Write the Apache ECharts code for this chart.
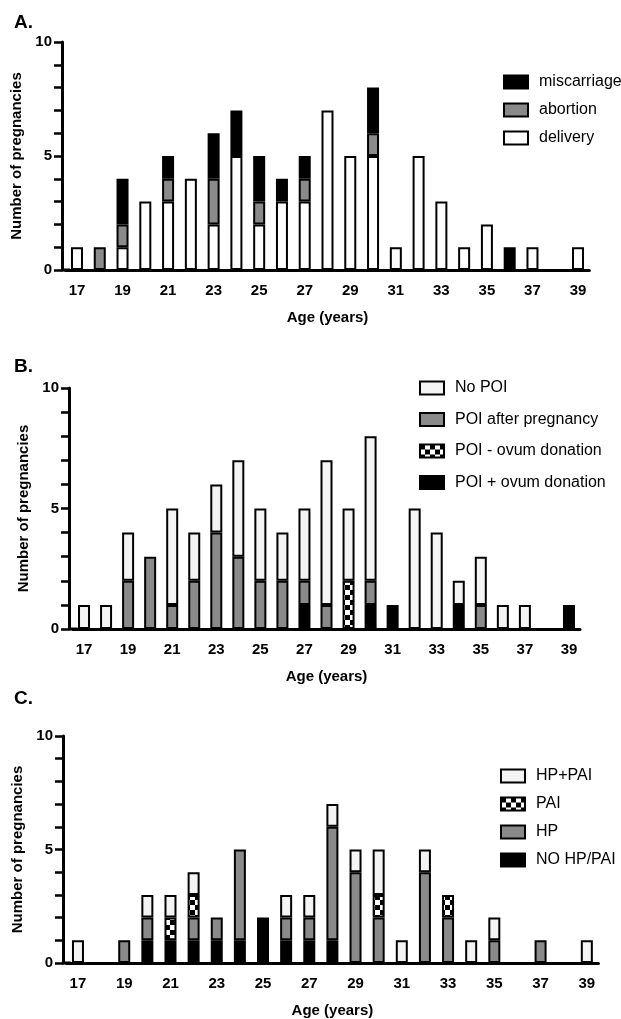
<!DOCTYPE html>
<html>
<head>
    <meta charset="utf-8">
    <script src="https://cdn.jsdelivr.net/npm/echarts@6/dist/echarts.min.js"></script>
</head>
<body style="margin:0;background:#fff">
    <div id="main" style="width: 621px;height:1019px;"></div>
    <script type="text/javascript">

    // ages on the x axis
    var ages = ['17','18','19','20','21','22','23','24','25','26','27','28','29','30','31','32','33','34','35','36','37','38','39'];

    // A. outcome
    var delivery    = [1,0,1,3,3,4,2,5,2,3,3,7,5,5,1,5,3,1,2,0,1,0,1];
    var abortion    = [0,1,1,0,1,0,2,0,1,0,1,0,0,1,0,0,0,0,0,0,0,0,0];
    var miscarriage = [0,0,2,0,1,0,2,2,2,1,1,0,0,2,0,0,0,0,0,1,0,0,0];

    // B. POI
    var poiPlusOvum  = [0,0,0,0,0,0,0,0,0,0,1,0,0,1,1,0,0,1,0,0,0,0,1];
    var poiMinusOvum = [0,0,0,0,0,0,0,0,0,0,0,0,2,0,0,0,0,0,0,0,0,0,0];
    var poiAfter     = [0,0,2,3,1,2,4,3,2,2,1,1,0,1,0,0,0,0,1,0,0,0,0];
    var noPoi        = [1,1,2,0,4,2,2,4,3,2,3,6,3,6,0,5,4,1,2,1,1,0,0];

    // C. HP / PAI
    var noHpPai = [0,0,0,1,1,1,1,1,2,1,1,1,0,0,0,0,0,0,0,0,0,0,0];
    var hp      = [0,0,1,1,0,1,1,4,0,1,1,5,4,2,0,4,2,0,1,0,1,0,0];
    var pai     = [0,0,0,0,1,1,0,0,0,0,0,0,0,1,0,0,1,0,0,0,0,0,0];
    var hpPai   = [1,0,0,1,1,1,0,0,0,1,1,1,1,2,1,1,0,1,1,0,0,0,1];

    var FONT = 'Liberation Sans';
    var GREY = '#8a8a8a';
    var LIGHT = '#f4f4f4';

    function checker() {
        var c = document.createElement('canvas');
        c.width = 10; c.height = 10;
        var g = c.getContext('2d');
        g.fillStyle = '#fff';
        g.fillRect(0, 0, 10, 10);
        g.fillStyle = '#000';
        g.fillRect(0, 0, 5, 5);
        g.fillRect(5, 5, 5, 5);
        return c;
    }
    var CHECK = {image: checker(), repeat: 'repeat'};

    function bars(name, values, color, idx) {
        return {
            name: name,
            type: 'bar',
            stack: 'p' + idx,
            xAxisIndex: idx,
            yAxisIndex: idx,
            barWidth: 12,
            itemStyle: {color: color, borderColor: '#000', borderWidth: 2},
            data: values.map(function (v) { return v === 0 ? '-' : v; })
        };
    }

    function xAx(idx) {
        return {
            type: 'category', gridIndex: idx, data: ages,
            name: 'Age (years)', nameLocation: 'middle', nameGap: 40,
            nameTextStyle: {fontFamily: FONT, fontWeight: 'bold', fontSize: 15, color: '#000'},
            axisLine: {
                lineStyle: {color: '#000', width: 3},
                symbol: ['rect', 'none'], symbolSize: [3, 9]
            },
            axisTick: {interval: 1, alignWithLabel: true, length: 8, lineStyle: {color: '#000', width: 3}},
            axisLabel: {interval: 1, margin: 13, fontFamily: FONT, fontWeight: 'bold', fontSize: 15, color: '#000'}
        };
    }

    function yAx(idx, off) {
        return {
            type: 'value', gridIndex: idx, min: 0, max: 10, interval: 1, offset: off,
            name: 'Number of pregnancies', nameLocation: 'middle', nameGap: 36,
            nameTextStyle: {fontFamily: FONT, fontWeight: 'bold', fontSize: 15, color: '#000'},
            splitLine: {show: false},
            axisLine: {show: true, lineStyle: {color: '#000', width: 3}},
            axisTick: {show: true, length: 8, lineStyle: {color: '#000', width: 2.5}},
            axisLabel: {
                margin: 10, fontFamily: FONT, fontWeight: 'bold', fontSize: 15, color: '#000',
                formatter: function (v) { return v % 5 === 0 ? v : ''; }
            }
        };
    }

    function leg(names, left, top, gap) {
        return {
            data: names, orient: 'vertical', left: left, top: top, padding: 0,
            itemWidth: 24, itemHeight: 13, itemGap: gap, icon: 'rect',
            textStyle: {fontFamily: FONT, fontSize: 16, color: '#000', padding: [0, 0, 0, 6]}
        };
    }

    var titleStyle = {fontFamily: FONT, fontWeight: 'bold', fontSize: 19, color: '#000'};

    var myChart = echarts.init(document.getElementById('main'));

    myChart.setOption({
        animation: false,
        title: [
            {text: 'A.', left: 14, top: 13, textStyle: titleStyle, padding: 0},
            {text: 'B.', left: 14, top: 357, textStyle: titleStyle, padding: 0},
            {text: 'C.', left: 14, top: 689, textStyle: titleStyle, padding: 0}
        ],
        legend: [
            leg(['miscarriage', 'abortion', 'delivery'], 503, 74, 12),
            leg(['No POI', 'POI after pregnancy', 'POI - ovum donation', 'POI + ovum donation'], 419, 380, 15.5),
            leg(['HP+PAI', 'PAI', 'HP', 'NO HP/PAI'], 500, 768, 12)
        ],
        grid: [
            {left: 65.6, width: 523.8, top: 42, height: 228},
            {left: 73, width: 507, top: 388, height: 241},
            {left: 66.4, width: 532, top: 736, height: 227}
        ],
        xAxis: [xAx(0), xAx(1), xAx(2)],
        yAxis: [yAx(0, 3.6), yAx(1, 4), yAx(2, 3.4)],
        series: [
            bars('delivery', delivery, '#fff', 0),
            bars('abortion', abortion, GREY, 0),
            bars('miscarriage', miscarriage, '#000', 0),

            bars('POI + ovum donation', poiPlusOvum, '#000', 1),
            bars('POI - ovum donation', poiMinusOvum, CHECK, 1),
            bars('POI after pregnancy', poiAfter, GREY, 1),
            bars('No POI', noPoi, LIGHT, 1),

            bars('NO HP/PAI', noHpPai, '#000', 2),
            bars('HP', hp, GREY, 2),
            bars('PAI', pai, CHECK, 2),
            bars('HP+PAI', hpPai, LIGHT, 2)
        ]
    });

</script>
</body>
</html>
